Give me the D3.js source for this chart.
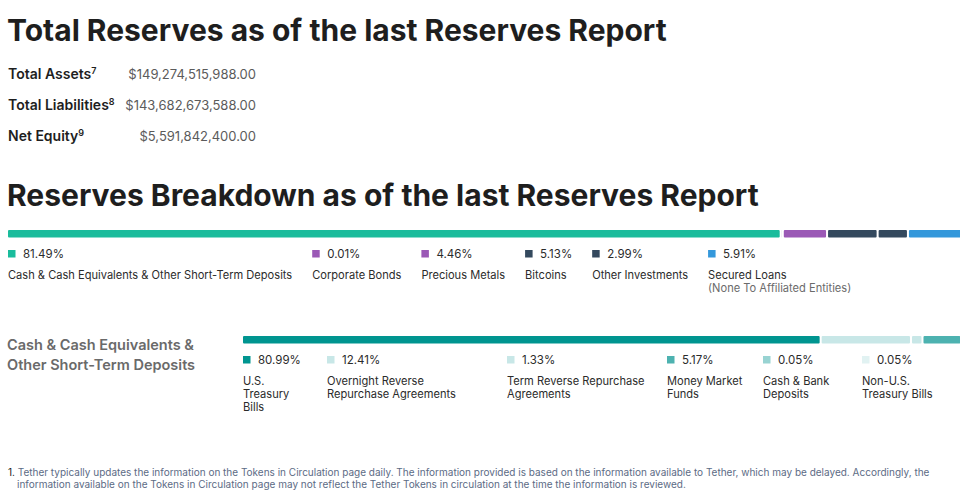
<!DOCTYPE html>
<meta charset="utf-8">
<style type="text/css">
body { margin: 0; background: #fff; }
svg { font-family: Inter, "Noto Sans", sans-serif; display: block; }
.title { font-weight: 700; fill: #1e1e1e; }
.stat-label { font-weight: 600; fill: #1e1e1e; font-size: 14px; }
.stat-value { fill: #5b5b5b; font-size: 13px; }
.pct { fill: #2b2b2b; font-size: 11.5px; }
.lbl { fill: #2b2b2b; font-size: 11.1px; }
.sub { fill: #6b6b6b; font-size: 11.1px; }
.side { fill: #6a6a6a; font-size: 14.5px; font-weight: 600; }
.note { fill: #5c6b85; font-size: 10px; }
</style>
<body>
<script src="https://cdn.jsdelivr.net/npm/d3@7"></script>
<script>

// totals
var statNames = ["Total Assets", "Total Liabilities", "Net Equity"];
var statNotes = ["7", "8", "9"];
var statValues = [149274515988.00, 143682673588.00, 5591842400.00];

// reserves breakdown
var mainCategories = ["Cash & Cash Equivalents & Other Short-Term Deposits", "Corporate Bonds", "Precious Metals", "Bitcoins", "Other Investments", "Secured Loans"];
var mainShares = [81.49, 0.01, 4.46, 5.13, 2.99, 5.91];
var mainSubLabels = ["", "", "", "", "", "(None To Affiliated Entities)"];
var mainColors = ["#1abc9c", "#9b59b6", "#9b59b6", "#34495e", "#34495e", "#3498db"];

// cash & cash equivalents breakdown
var cashCategories = [["U.S.", "Treasury", "Bills"], ["Overnight Reverse", "Repurchase Agreements"], ["Term Reverse Repurchase", "Agreements"], ["Money Market", "Funds"], ["Cash & Bank", "Deposits"], ["Non-U.S.", "Treasury Bills"]];
var cashShares = [80.99, 12.41, 1.33, 5.17, 0.05, 0.05];
var cashColors = ["#009590", "#c8e7e7", "#c8e7e7", "#4db2b0", "#98d3d2", "#e1f2f2"];
var cashLegendX = [243, 327, 507, 667, 763, 862];

var footnote = ["1. ", "Tether typically updates the information on the Tokens in Circulation page daily. The information provided is based on the information available to Tether, which may be delayed. Accordingly, the",
  "information available on the Tokens in Circulation page may not reflect the Tether Tokens in circulation at the time the information is reviewed."];

var width = 960, height = 500;
var gap = 2;

var svg = d3.select("body").append("svg")
    .attr("width", width)
    .attr("height", height);

// headings
svg.append("text").attr("class", "title")
    .attr("x", 7).attr("y", 41).style("font-size", "30px")
    .text("Total Reserves as of the last Reserves Report");

svg.append("text").attr("class", "title")
    .attr("x", 7).attr("y", 206).style("font-size", "30px")
    .text("Reserves Breakdown as of the last Reserves Report");

// totals rows
var money = d3.format("$,.2f");
var rows = svg.selectAll(".stat").data(statNames).enter().append("g")
    .attr("class", "stat")
    .attr("transform", function(d, i) { return "translate(8," + (79 + i * 31) + ")"; });

var lab = rows.append("text").attr("class", "stat-label").text(function(d) { return d; });
lab.append("tspan").attr("dy", -5).style("font-size", "9px")
    .text(function(d, i) { return statNotes[i]; });

rows.append("text").attr("class", "stat-value")
    .attr("x", 248).attr("text-anchor", "end")
    .text(function(d, i) { return money(statValues[i]); });

// stacked bar helper
function stackBar(shares, colors, x0, w, y0, h) {
  var x = d3.scaleLinear().domain([0, 100]).range([0, w]);
  var cum = d3.cumsum(shares);
  svg.append("g").selectAll("rect").data(shares).enter().append("rect")
      .attr("x", function(d, i) { return x0 + x(cum[i] - d) + i * gap; })
      .attr("y", y0)
      .attr("width", function(d) { return Math.max(0, x(d)); })
      .attr("height", h)
      .attr("rx", 1)
      .attr("fill", function(d, i) { return colors[i]; });
}

stackBar(mainShares, mainColors, 8, 947, 230, 7.5);
stackBar(cashShares, cashColors, 243, 712, 336, 7.5);

var pct = function(v) { return d3.format(".2f")(v) + "%"; };

// top legend, laid out like a row of flex items
var lx = 8;
mainCategories.forEach(function(name, i) {
  var g = svg.append("g").attr("transform", "translate(" + lx + ",0)");
  g.append("rect").attr("x", 0).attr("y", 250).attr("width", 7.5).attr("height", 7.5).attr("fill", mainColors[i]);
  var p = g.append("text").attr("class", "pct").attr("x", 15).attr("y", 258).text(pct(mainShares[i]));
  var t = g.append("text").attr("class", "lbl").attr("x", 0).attr("y", 279).text(name);
  var w = Math.max(15 + p.node().getComputedTextLength(), t.node().getComputedTextLength());
  if (mainSubLabels[i]) {
    var s = g.append("text").attr("class", "sub").attr("x", 0).attr("y", 292).text(mainSubLabels[i]);
    w = Math.max(w, s.node().getComputedTextLength());
  }
  lx += w + 20;
});

// lower block
svg.append("text").attr("class", "side").attr("x", 7).attr("y", 350).text("Cash & Cash Equivalents &");
svg.append("text").attr("class", "side").attr("x", 7).attr("y", 370).text("Other Short-Term Deposits");

cashCategories.forEach(function(lines, i) {
  var g = svg.append("g").attr("transform", "translate(" + cashLegendX[i] + ",0)");
  g.append("rect").attr("x", 0).attr("y", 356).attr("width", 7.5).attr("height", 7.5).attr("fill", cashColors[i]);
  g.append("text").attr("class", "pct").attr("x", 15).attr("y", 364).text(pct(cashShares[i]));
  g.selectAll(".lbl").data(lines).enter().append("text").attr("class", "lbl")
      .attr("x", 0).attr("y", function(d, j) { return 385 + j * 13; })
      .text(function(d) { return d; });
});

// footnote
var fn = svg.append("text").attr("class", "note").attr("x", 8).attr("y", 476);
fn.append("tspan").style("fill", "#222").text(footnote[0]);
fn.append("tspan").text(footnote[1]);
svg.append("text").attr("class", "note").attr("x", 17).attr("y", 488).text(footnote[2]);

</script>
</body>
